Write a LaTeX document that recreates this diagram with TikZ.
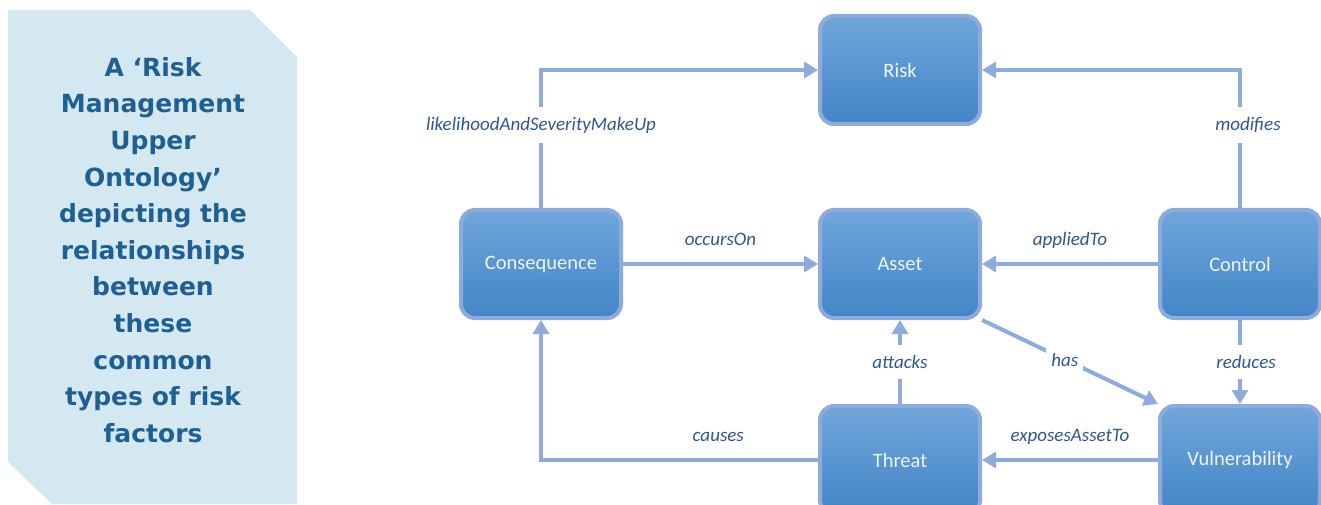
\documentclass[tikz,border=0pt]{standalone}
\usepackage{fontspec}
\setmainfont{Carlito}
\newfontfamily\titlefont{DejaVu Sans}
\usetikzlibrary{positioning,arrows.meta}
\definecolor{panelblue}{RGB}{211,232,241}
\definecolor{titleblue}{RGB}{31,95,145}
\definecolor{linkblue}{RGB}{143,170,220}
\definecolor{boxtop}{RGB}{112,166,219}
\definecolor{boxbottom}{RGB}{66,133,199}
\definecolor{boxtext}{RGB}{240,245,252}
\definecolor{labelblue}{RGB}{47,85,151}

\begin{document}
\begin{tikzpicture}[x=1pt,y=1pt,
  concept/.style={rectangle,rounded corners=14pt,draw=linkblue,line width=4pt,
    top color=boxtop,bottom color=boxbottom,minimum width=160pt,minimum height=108pt,
    text=boxtext,font=\fontsize{20.5}{24}\selectfont},
  rel/.style={text=labelblue,inner sep=2pt,font=\fontsize{19}{22}\selectfont\itshape},
  onrel/.style={rel,fill=white,inner xsep=5pt,inner ysep=10pt},
  over/.style={rel,anchor=base,yshift=19pt},
  link/.style={draw=linkblue,line width=4pt,-{Triangle[length=14pt,width=16pt]}}]
\useasboundingbox (0,0) rectangle (1321,504);
\clip (0,0) rectangle (1321,504);
% side panel
\fill[panelblue] (8,494) -- (250,494) -- (297,447) -- (297,0) -- (52,0) -- (8,42) -- cycle;
\node[align=center,text=titleblue,font=\titlefont\bfseries\fontsize{25}{36.6}\selectfont] (title) at (153,254)
  {A ‘Risk\\ Management\\ Upper\\ Ontology’\\ depicting the\\ relationships\\ between\\ these\\ common\\ types of risk\\ factors};
% concepts
\node[concept] (asset) at (900,240) {Asset};
\node[concept,above=82pt of asset] (risk) {Risk};
\node[concept,below=84pt of asset] (threat) {Threat};
\node[concept,left=195pt of asset] (consequence) {Consequence};
\node[concept,right=176pt of asset] (control) {Control};
\node[concept,below=84pt of control] (vulnerability) {Vulnerability};
% relations
\draw[link] (consequence.north) |- node[onrel,pos=0.3] {likelihoodAndSeverityMakeUp} (risk.west);
\draw[link] (control.north) |- node[onrel,pos=0.3,xshift=8pt] {modifies} (risk.east);
\draw[link] (consequence) -- node[over] {occursOn} (asset);
\draw[link] (control) -- node[over] {appliedTo} (asset);
\draw[link] (asset.south east) -- node[onrel,pos=0.47] {has} (vulnerability.north west);
\draw[link] (control) -- node[onrel,xshift=6pt] {reduces} (vulnerability);
\draw[link] (threat) -- node[onrel] {attacks} (asset);
\draw[link] (threat.west) -| node[over,pos=0.18] {causes} (consequence.south);
\draw[link] (vulnerability) -- node[over] {exposesAssetTo} (threat);
\end{tikzpicture}
\end{document}
